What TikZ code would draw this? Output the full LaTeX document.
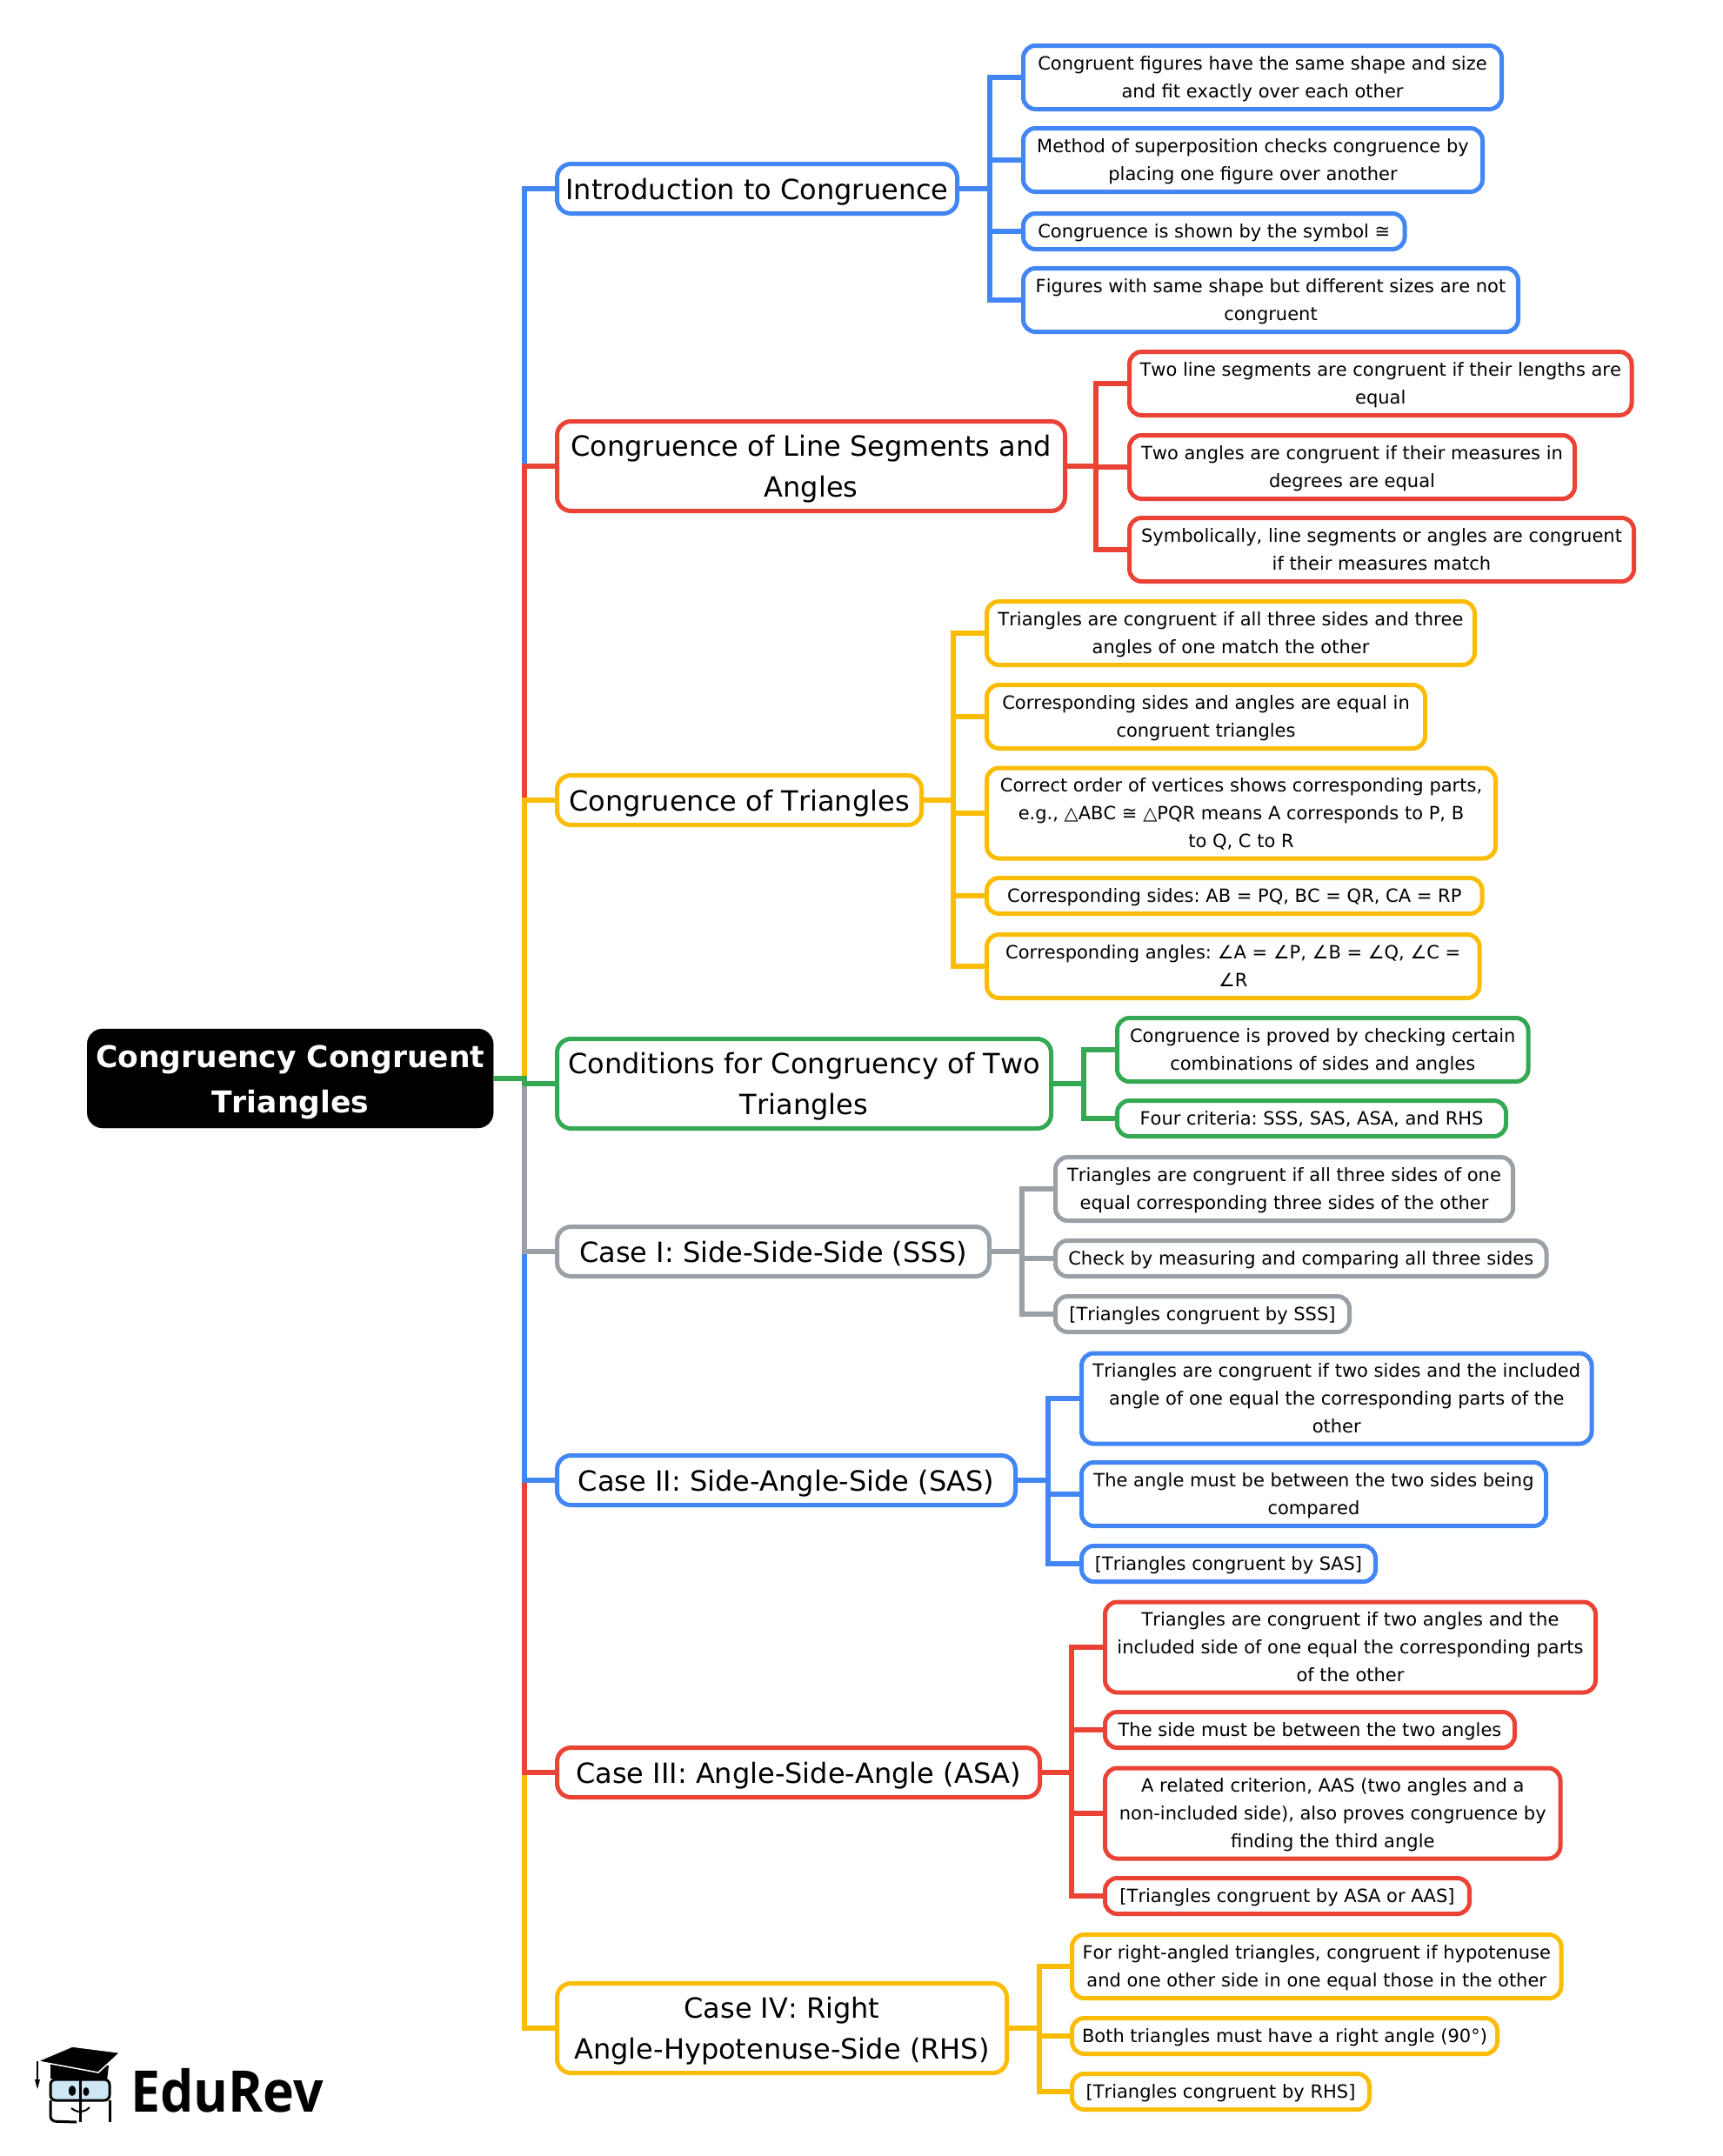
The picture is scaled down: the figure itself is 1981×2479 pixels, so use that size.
\documentclass[tikz,border=0pt]{standalone}
\usepackage{fontspec}
\setmainfont[Kerning=Off]{DejaVu Sans}
\newfontfamily\logofont{Open Sans}
\usepackage{tikz}
\frenchspacing
\definecolor{mapblue}{HTML}{4285F4}
\definecolor{mapred}{HTML}{EA4335}
\definecolor{mapyellow}{HTML}{FBBC04}
\definecolor{mapgreen}{HTML}{34A853}
\definecolor{mapgrey}{HTML}{9AA0A6}
\definecolor{lensblue}{HTML}{CFE6F5}

\begin{document}
\begin{tikzpicture}[x=1pt,y=-1pt]
		\tikzstyle{racine}=[draw=black,fill=black,text=white,rectangle,rounded corners=18pt,align=center,font=\fontsize{34.5}{51.5}\selectfont\bfseries,anchor=west,inner sep=0pt]
		\tikzstyle{branche}=[draw,line width=5pt,rectangle,rounded corners=16pt,align=center,font=\fontsize{32}{47.4}\selectfont,anchor=west,inner sep=0pt,xshift=-2pt,text depth=0pt]
		\tikzstyle{feuille}=[draw,line width=5pt,rectangle,rounded corners=14pt,align=center,font=\fontsize{21}{31.7}\selectfont,anchor=west,inner sep=0pt,xshift=-2pt,text depth=1pt]
		\tikzstyle{lien}=[line width=6.5pt]
		\useasboundingbox (0,0) rectangle (1981,2479);

		\node[racine,minimum width=467pt,minimum height=114pt] (root) at (100,1240) {\rule{0pt}{34pt}Congruency Congruent\\Triangles};

		\node[branche,draw=mapblue,minimum width=460pt,minimum height=57pt] (Intro) at (640,217) {Introduction to Congruence};
		\node[branche,draw=mapred,minimum width=584pt,minimum height=103pt] (Line) at (640,536) {Congruence of Line Segments and\\Angles};
		\node[branche,draw=mapyellow,minimum width=419pt,minimum height=57pt] (Tri) at (640,920) {Congruence of Triangles};
		\node[branche,draw=mapgreen,minimum width=568pt,minimum height=103pt] (Cond) at (640,1246) {Conditions for Congruency of Two\\Triangles};
		\node[branche,draw=mapgrey,minimum width=497pt,minimum height=57pt] (SSS) at (640,1439) {Case I: Side-Side-Side (SSS)};
		\node[branche,draw=mapblue,minimum width=527pt,minimum height=57pt] (SAS) at (640,1702) {Case II: Side-Angle-Side (SAS)};
		\node[branche,draw=mapred,minimum width=555pt,minimum height=57pt] (ASA) at (640,2038) {Case III: Angle-Side-Angle (ASA)};
		\node[branche,draw=mapyellow,minimum width=517pt,minimum height=103pt] (RHS) at (640,2332) {Case IV: Right\\Angle-Hypotenuse-Side (RHS)};

		\node[feuille,draw=mapblue,minimum width=550pt,minimum height=73pt] (I1) at (1176,89) {Congruent figures have the same shape and size\\and fit exactly over each other};
		\node[feuille,draw=mapblue,minimum width=528pt,minimum height=73pt] (I2) at (1176,184) {Method of superposition checks congruence by\\placing one figure over another};
		\node[feuille,draw=mapblue,minimum width=438.5pt,minimum height=41pt] (I3) at (1176,266) {Congruence is shown by the symbol ≅};
		\node[feuille,draw=mapblue,minimum width=569pt,minimum height=73pt] (I4) at (1176,345) {Figures with same shape but different sizes are not\\congruent};

		\node[feuille,draw=mapred,minimum width=577.5pt,minimum height=73pt] (L1) at (1298,441) {Two line segments are congruent if their lengths are\\equal};
		\node[feuille,draw=mapred,minimum width=512pt,minimum height=73pt] (L2) at (1298,537) {Two angles are congruent if their measures in\\degrees are equal};
		\node[feuille,draw=mapred,minimum width=580pt,minimum height=73pt] (L3) at (1298,632) {Symbolically, line segments or angles are congruent\\if their measures match};

		\node[feuille,draw=mapyellow,minimum width=561pt,minimum height=73pt] (T1) at (1134,728) {Triangles are congruent if all three sides and three\\angles of one match the other};
		\node[feuille,draw=mapyellow,minimum width=504pt,minimum height=73pt] (T2) at (1134,824) {Corresponding sides and angles are equal in\\congruent triangles};
		\node[feuille,draw=mapyellow,minimum width=585pt,minimum height=104pt] (T3) at (1134,935) {Correct order of vertices shows corresponding parts,\\e.g., △ABC ≅ △PQR means A corresponds to P, B\\to Q, C to R};
		\node[feuille,draw=mapyellow,minimum width=569.5pt,minimum height=41pt] (T4) at (1134,1030) {Corresponding sides: AB = PQ, BC = QR, CA = RP};
		\node[feuille,draw=mapyellow,minimum width=566.5pt,minimum height=73pt] (T5) at (1134,1111) {Corresponding angles: ∠A = ∠P, ∠B = ∠Q, ∠C =\\∠R};

		\node[feuille,draw=mapgreen,minimum width=472.5pt,minimum height=73pt] (C1) at (1284,1207) {Congruence is proved by checking certain\\combinations of sides and angles};
		\node[feuille,draw=mapgreen,minimum width=447pt,minimum height=41pt] (C2) at (1284,1286) {Four criteria: SSS, SAS, ASA, and RHS};

		\node[feuille,draw=mapgrey,minimum width=526pt,minimum height=73pt] (S1) at (1213,1367) {Triangles are congruent if all three sides of one\\equal corresponding three sides of the other};
		\node[feuille,draw=mapgrey,minimum width=564.5pt,minimum height=41pt] (S2) at (1213,1447) {Check by measuring and comparing all three sides};
		\node[feuille,draw=mapgrey,minimum width=338pt,minimum height=41pt] (S3) at (1213,1511) {[Triangles congruent by SSS]};

		\node[feuille,draw=mapblue,minimum width=586.5pt,minimum height=104pt] (A1) at (1243,1608) {Triangles are congruent if two sides and the included\\angle of one equal the corresponding parts of the\\other};
		\node[feuille,draw=mapblue,minimum width=534pt,minimum height=73pt] (A2) at (1243,1718) {The angle must be between the two sides being\\compared};
		\node[feuille,draw=mapblue,minimum width=338pt,minimum height=41pt] (A3) at (1243,1798) {[Triangles congruent by SAS]};

		\node[feuille,draw=mapred,minimum width=564pt,minimum height=104pt] (B1) at (1270,1894) {Triangles are congruent if two angles and the\\included side of one equal the corresponding parts\\of the other};
		\node[feuille,draw=mapred,minimum width=471pt,minimum height=41pt] (B2) at (1270,1989) {The side must be between the two angles};
		\node[feuille,draw=mapred,minimum width=523.5pt,minimum height=104pt] (B3) at (1270,2085) {A related criterion, AAS (two angles and a\\non-included side), also proves congruence by\\finding the third angle};
		\node[feuille,draw=mapred,minimum width=419pt,minimum height=41pt] (B4) at (1270,2180) {[Triangles congruent by ASA or AAS]};

		\node[feuille,draw=mapyellow,minimum width=562.5pt,minimum height=73pt] (R1) at (1232,2261) {For right-angled triangles, congruent if hypotenuse\\and one other side in one equal those in the other};
		\node[feuille,draw=mapyellow,minimum width=489pt,minimum height=41pt] (R2) at (1232,2341) {Both triangles must have a right angle (90°)};
		\node[feuille,draw=mapyellow,minimum width=342pt,minimum height=41pt] (R3) at (1232,2405) {[Triangles congruent by RHS]};

		\coordinate (bRoot) at (603,1240);
		\coordinate (bI) at (1138,217);
		\coordinate (bL) at (1260,536);
		\coordinate (bT) at (1096,920);
		\coordinate (bC) at (1246,1246);
		\coordinate (bS) at (1175,1439);
		\coordinate (bA) at (1205,1702);
		\coordinate (bB) at (1232,2038);
		\coordinate (bR) at (1195,2332);

		\draw[lien,mapblue] (bRoot) |- (Intro.west);
		\draw[lien,mapred] (bRoot) |- (Line.west);
		\draw[lien,mapyellow] (bRoot) |- (Tri.west);
		\draw[lien,mapyellow] (bRoot) |- (RHS.west);
		\draw[lien,mapred] (bRoot) |- (ASA.west);
		\draw[lien,mapblue] (bRoot) |- (SAS.west);
		\draw[lien,mapgrey] (bRoot) |- (SSS.west);
		\draw[lien,mapgreen] (root.east) -- (bRoot) |- (Cond.west);

		\draw[lien,mapblue] (Intro.east) -- (bI) |- (I1.west);
		\draw[lien,mapblue] (bI) |- (I2.west);
		\draw[lien,mapblue] (bI) |- (I3.west);
		\draw[lien,mapblue] (bI) |- (I4.west);

		\draw[lien,mapred] (Line.east) -- (bL) |- (L1.west);
		\draw[lien,mapred] (bL) |- (L2.west);
		\draw[lien,mapred] (bL) |- (L3.west);

		\draw[lien,mapyellow] (Tri.east) -- (bT) |- (T1.west);
		\draw[lien,mapyellow] (bT) |- (T2.west);
		\draw[lien,mapyellow] (bT) |- (T3.west);
		\draw[lien,mapyellow] (bT) |- (T4.west);
		\draw[lien,mapyellow] (bT) |- (T5.west);

		\draw[lien,mapgreen] (Cond.east) -- (bC) |- (C1.west);
		\draw[lien,mapgreen] (bC) |- (C2.west);

		\draw[lien,mapgrey] (SSS.east) -- (bS) |- (S1.west);
		\draw[lien,mapgrey] (bS) |- (S2.west);
		\draw[lien,mapgrey] (bS) |- (S3.west);

		\draw[lien,mapblue] (SAS.east) -- (bA) |- (A1.west);
		\draw[lien,mapblue] (bA) |- (A2.west);
		\draw[lien,mapblue] (bA) |- (A3.west);

		\draw[lien,mapred] (ASA.east) -- (bB) |- (B1.west);
		\draw[lien,mapred] (bB) |- (B2.west);
		\draw[lien,mapred] (bB) |- (B3.west);
		\draw[lien,mapred] (bB) |- (B4.west);

		\draw[lien,mapyellow] (RHS.east) -- (bR) |- (R1.west);
		\draw[lien,mapyellow] (bR) |- (R2.west);
		\draw[lien,mapyellow] (bR) |- (R3.west);

		% logo
		\node[font=\fontsize{66}{66}\selectfont\logofont\bfseries,anchor=west,inner sep=0pt,xscale=.92,transform shape] (logo) at (150,2404) {EduRev};
		\fill[black] (58,2373) -- (125,2375) -- (123,2392) -- (58,2390) -- cycle;
		\draw[white,line width=1.5pt,fill=black] (43,2370) -- (83,2353) -- (138,2360) -- (113,2383) -- cycle;
		\draw[black,line width=2pt] (43,2370) -- (43,2392);
		\fill[black] (40,2391) -- (46,2391) -- (43,2402) -- cycle;
		\draw[black,line width=3pt,fill=lensblue,rounded corners=6pt] (58,2391) rectangle (126,2415);
		\draw[black,line width=3pt,rounded corners=6pt] (58,2415) -- (58,2439) -- (88,2440);
		\draw[black,line width=3pt,rounded corners=6pt] (126,2415) -- (126,2440);
		\draw[black,line width=3pt] (92,2390) -- (92,2440);
		\fill[black] (83,2404) ellipse (4pt and 6pt);
		\fill[black] (99,2405) ellipse (3.5pt and 5pt);
		\draw[black,line width=2pt] (82,2424) .. controls (90,2430) and (97,2429) .. (103,2423);
\end{tikzpicture}
\end{document}
